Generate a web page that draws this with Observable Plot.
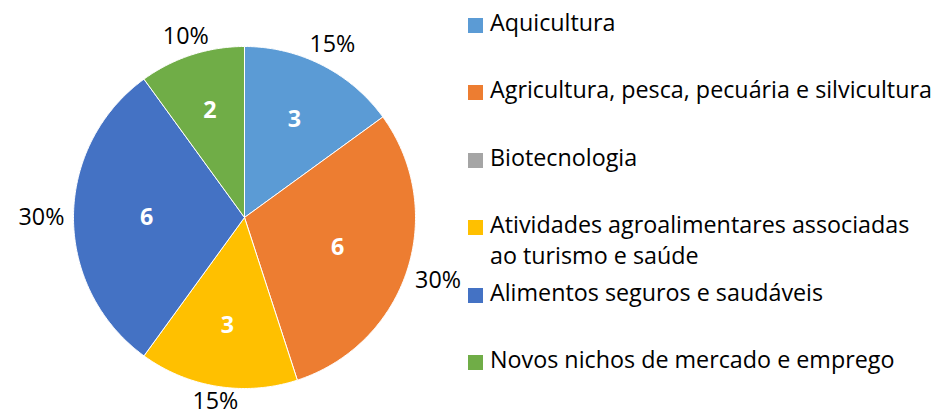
<!DOCTYPE html>
<html><head><meta charset="utf-8">
<script src="https://cdn.jsdelivr.net/npm/d3@7"></script>
<script src="https://cdn.jsdelivr.net/npm/@observablehq/plot@0.6"></script>
<style>
body{margin:0;background:#fff;font-family:"Open Sans",sans-serif;}
#wrap{position:relative;width:934px;height:417px;overflow:hidden;}
#chart{position:absolute;left:0;top:0;}
#legend{position:absolute;left:468px;top:7px;line-height:31px;color:#000;}
.item{position:relative;height:67.4px;padding-left:22px;white-space:nowrap;}
.sw{position:absolute;left:0;top:11px;width:15px;height:15px;}
</style>
</head><body>
<div id="wrap"><div id="chart"></div><div id="legend"></div></div>
<script>
const categories = ["Aquicultura","Agricultura, pesca, pecuária e silvicultura","Biotecnologia","Atividades agroalimentares associadas ao turismo e saúde","Alimentos seguros e saudáveis","Novos nichos de mercado e emprego"];
const legendLines = [["Aquicultura"],["Agricultura, pesca, pecuária e silvicultura"],["Biotecnologia"],["Atividades agroalimentares associadas","ao turismo e saúde"],["Alimentos seguros e saudáveis"],["Novos nichos de mercado e emprego"]];
const values = [3,6,0,3,6,2];
const colors = ["#5B9BD5","#ED7D31","#A5A5A5","#FFC000","#4472C4","#70AD47"];

const FONT = "'Open Sans', sans-serif";
const ctx = document.createElement("canvas").getContext("2d");
ctx.font = "20px " + FONT;
const fs = Math.round(20 * 442 / ctx.measureText(legendLines[1][0]).width * 10) / 10;

const total = d3.sum(values);
const R = 171;
let acc = 0;
const slices = categories.map((name,i)=>{
  const a0 = acc/total*2*Math.PI; acc += values[i];
  const a1 = acc/total*2*Math.PI;
  return {name, value: values[i], a0, a1, mid:(a0+a1)/2, half:(a1-a0)/2};
}).filter(s=>s.value>0);

const poly = [];
for (const s of slices) {
  poly.push({name:s.name, x:0, y:0});
  const n = Math.max(2, Math.ceil((s.a1-s.a0)/(Math.PI/360)));
  for (let k=0;k<=n;k++){ const a = s.a0+(s.a1-s.a0)*k/n; poly.push({name:s.name, x:Math.sin(a), y:Math.cos(a)}); }
  poly.push({name:s.name, x:0, y:0});
}
const inner = slices.map(s=>{
  const r = 2*Math.sin(s.half)/(3*s.half);
  return {x:r*Math.sin(s.mid), y:r*Math.cos(s.mid), text:String(s.value)};
});
const fmt = d3.format(".0%");
const outer = slices.map(s=>{
  const r = 1 + (5 + Math.abs(Math.sin(s.mid))*27 + Math.abs(Math.cos(s.mid))*6)/R;
  return {x:r*Math.sin(s.mid), y:r*Math.cos(s.mid), text:fmt(s.value/total)};
});

const plot = Plot.plot({
  width:467, height:417,
  marginLeft:73, marginRight:52, marginTop:46, marginBottom:29,
  x:{domain:[-1,1], axis:null},
  y:{domain:[-1,1], axis:null},
  color:{domain:categories, range:colors},
  style:{fontFamily:FONT, fontSize:fs+"px", background:"transparent"},
  marks:[
    Plot.line(poly,{x:"x", y:"y", z:"name", fill:"name", stroke:"white", strokeWidth:1, curve:"linear"}),
    Plot.text(inner,{x:"x", y:"y", text:"text", fill:"white", fontWeight:"bold", fontSize:fs}),
    Plot.text(outer,{x:"x", y:"y", text:"text", fill:"black", fontSize:fs})
  ]
});
document.getElementById("chart").appendChild(plot);

const leg = document.getElementById("legend");
leg.style.fontSize = fs + "px";
categories.forEach((c,i)=>{
  const it = document.createElement("div"); it.className="item";
  const sw = document.createElement("div"); sw.className="sw"; sw.style.background=colors[i];
  it.appendChild(sw);
  it.insertAdjacentHTML("beforeend", legendLines[i].join("<br>"));
  leg.appendChild(it);
});
</script>
</body></html>
